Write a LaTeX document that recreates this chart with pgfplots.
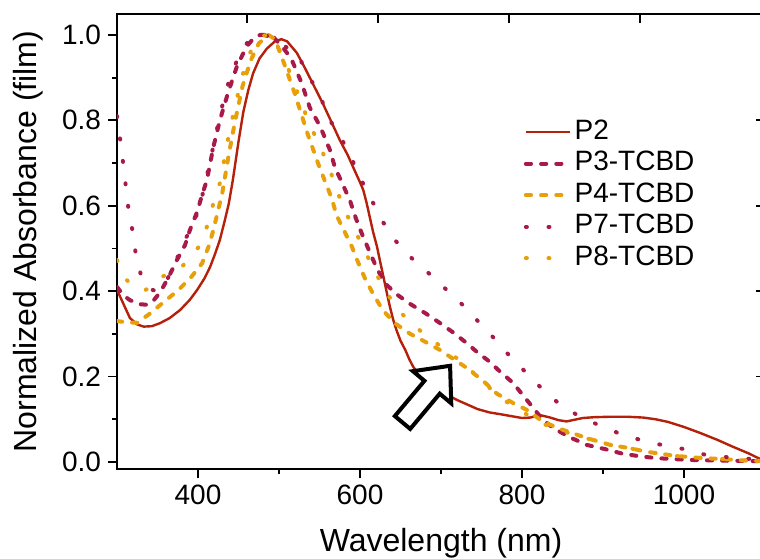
\documentclass[border=0pt]{standalone}
\usepackage{fontspec}
\setmainfont{Liberation Sans}
\usepackage{pgfplots}
\pgfplotsset{compat=1.18}

\definecolor{cP2}{RGB}{180,32,10}
\definecolor{cCrim}{RGB}{170,26,72}
\definecolor{cGold}{RGB}{232,160,10}

\begin{document}
\begin{tikzpicture}
\begin{axis}[
  name=ax,
  scale only axis, width=324pt, height=227.5pt,
  xmin=300, xmax=1100, ymin=-0.0164, ymax=1.049,
  xtick={400,600,...,1000}, minor x tick num=1,
  ytick={0,0.2,...,1.0}, minor y tick num=1,
  xtick pos=bottom, ytick pos=left, tick align=outside,
  major tick length=4.5pt, minor tick length=2.5pt,
  axis line style={line width=1pt}, every tick/.style={line width=0.9pt, black},
  /pgf/number format/assume math mode=true,
  ticklabel style={font=\fontsize{14}{16}\selectfont},
  yticklabel style={/pgf/number format/.cd, fixed, fixed zerofill, precision=1},
  xticklabel style={/pgf/number format/.cd, fixed, 1000 sep={}},
  xlabel={Wavelength (nm)}, ylabel={Normalized Absorbance (film)},
  every axis x label/.style={at={(axis description cs:0.5,-0.1626)}, anchor=center,
    font=\fontsize{16}{18}\selectfont},
  every axis y label/.style={at={(axis description cs:-0.1373,0.5)}, anchor=center,
    rotate=90, font=\fontsize{16}{18}\selectfont},
  legend style={at={(axis description cs:0.618,0.785)}, anchor=north west,
    draw=none, fill=none, font=\fontsize{14}{16}\selectfont, row sep=0pt,
    nodes={text height=10pt, text depth=3pt, inner sep=1.4pt}},
  legend cell align=left,
  legend image code/.code={\draw[#1] (0pt,0pt) -- (22pt,0pt);},
]
\addplot[cP2, line width=1.2pt] coordinates {
(300,0.403) (308,0.37) (316,0.337) (325,0.322) (333,0.317) (343,0.318) (353,0.325)
(365,0.337) (378,0.356) (390,0.38) (399,0.403) (408,0.43) (415,0.457) (421,0.487)
(427,0.52) (433,0.565) (438,0.605) (443,0.66) (450,0.75) (456,0.82) (462,0.87)
(468,0.91) (476,0.945) (485,0.968) (495,0.985) (503,0.99) (510,0.985) (522,0.958)
(530,0.93) (538,0.90) (546,0.87) (554,0.84) (565,0.795) (575,0.754) (585,0.718)
(594,0.68) (600,0.655) (604,0.637) (608,0.608) (612,0.574) (616,0.54) (621,0.504)
(625,0.468) (629,0.433) (633,0.397) (637,0.363) (641,0.333) (645,0.309) (650,0.284)
(656,0.262) (661,0.24) (666,0.222) (673,0.205) (680,0.192) (690,0.178) (699,0.168)
(710,0.155) (720,0.145) (732,0.135) (745,0.124) (760,0.116) (773,0.112) (785,0.108)
(800,0.103) (810,0.104) (822,0.11) (835,0.104) (845,0.098) (855,0.095) (865,0.099)
(875,0.103) (890,0.105) (910,0.106) (930,0.106) (950,0.104) (965,0.1) (980,0.094)
(1000,0.082) (1020,0.068) (1041,0.052) (1060,0.036) (1080,0.02) (1094,0.007) (1100,0.004)
};
\addlegendentry{P2}
\addplot[cCrim, line width=2pt, line cap=round, dash pattern=on 2.6pt off 5.0pt] coordinates {
(300,0.41) (308,0.39) (316,0.379) (326,0.37) (337,0.368) (345,0.378) (351,0.392)
(357,0.41) (364,0.434) (374,0.473) (384,0.508) (390,0.543) (399,0.586) (405,0.625)
(411,0.66) (419,0.738) (427,0.80) (437,0.864) (448,0.926) (460,0.973) (470,0.995)
(477,1.0) (485,1.0) (493,0.995) (505,0.97) (515,0.945) (528,0.887) (538,0.83)
(551,0.785) (563,0.73) (569,0.69) (579,0.649) (588,0.61) (595,0.57) (602,0.536)
(611,0.496) (620,0.457) (630,0.42) (645,0.393) (662,0.37) (681,0.348) (699,0.325)
(716,0.302) (732,0.278) (746,0.255) (760,0.235) (771,0.215) (789,0.185) (806,0.145)
(826,0.098) (840,0.078) (859,0.058) (880,0.04) (903,0.03) (923,0.02) (943,0.014)
(966,0.009) (987,0.007) (1004,0.005) (1050,0.003) (1100,0.002)
};
\addlegendentry{P3-TCBD}
\addplot[cGold, line width=2pt, line cap=round, dash pattern=on 2.6pt off 5.0pt] coordinates {
(300,0.33) (312,0.327) (325,0.326) (341,0.348) (358,0.375) (376,0.403) (392,0.434)
(405,0.465) (413,0.504) (419,0.543) (424,0.583) (430,0.63) (438,0.72) (446,0.80)
(455,0.88) (465,0.94) (475,0.98) (487,1.0) (495,0.99) (505,0.94) (520,0.86)
(535,0.77) (550,0.69) (565,0.618) (571,0.578) (580,0.543) (590,0.504) (598,0.466)
(607,0.426) (617,0.391) (628,0.356) (643,0.325) (662,0.30) (680,0.282) (699,0.262)
(717,0.239) (732,0.22) (752,0.19) (769,0.16) (789,0.138) (806,0.122) (826,0.094)
(851,0.075) (880,0.056) (909,0.04) (931,0.033) (954,0.024) (991,0.014) (1024,0.009)
(1048,0.007) (1069,0.004) (1100,0.002)
};
\addlegendentry{P4-TCBD}
\addplot[cCrim, line width=2pt, line cap=round, dash pattern=on 0.5pt off 10.8pt] coordinates {
(300,0.81) (305,0.74) (310,0.66) (314,0.594) (319,0.543) (323,0.489) (330,0.434)
(340,0.405) (351,0.399) (360,0.42) (368,0.45) (382,0.512) (392,0.551) (401,0.59)
(409,0.653) (419,0.74) (428,0.82) (438,0.89) (450,0.95) (462,0.985) (475,1.0)
(485,0.998) (498,0.985) (510,0.97) (522,0.957) (538,0.90) (551,0.855) (563,0.80)
(577,0.758) (590,0.709) (602,0.659) (615,0.611) (628,0.563) (642,0.522) (661,0.482)
(682,0.447) (703,0.41) (723,0.375) (743,0.335) (763,0.295) (780,0.258) (800,0.219)
(820,0.18) (843,0.141) (868,0.11) (894,0.087) (921,0.066) (949,0.05) (977,0.038)
(1001,0.03) (1028,0.016) (1060,0.01) (1100,0.005)
};
\addlegendentry{P7-TCBD}
\addplot[cGold, line width=2pt, line cap=round, dash pattern=on 0.5pt off 10.8pt] coordinates {
(300,0.473) (312,0.426) (322,0.41) (331,0.40) (344,0.41) (356,0.434) (368,0.445)
(380,0.457) (391,0.48) (401,0.504) (411,0.551) (419,0.606) (427,0.653) (433,0.714)
(440,0.785) (448,0.85) (454,0.90) (464,0.957) (472,0.985) (480,0.998) (486,1.0)
(493,0.99) (505,0.95) (516,0.90) (526,0.848) (538,0.79) (551,0.738) (563,0.684)
(568,0.655) (579,0.598) (591,0.551) (604,0.504) (616,0.454) (631,0.403) (645,0.36)
(666,0.32) (686,0.29) (700,0.27) (709,0.258) (727,0.232) (745,0.20) (765,0.165)
(785,0.135) (800,0.118) (820,0.095) (841,0.077) (865,0.064) (886,0.052) (909,0.04)
(931,0.033) (954,0.024) (991,0.014) (1024,0.009) (1048,0.007) (1069,0.004) (1100,0.002)
};
\addlegendentry{P8-TCBD}
% extra tick marks on the top and right frame (4.5pt = 11.1 nm = 0.021)
\foreach \t in {460,622,784,946} {
  \edef\tmp{\noexpand\draw[line width=0.9pt] (axis cs:\t,1.049) -- (axis cs:\t,1.028);}\tmp
}
\foreach \t in {0.2,0.4,0.6,0.8} {
  \edef\tmp{\noexpand\draw[line width=0.9pt] (axis cs:1100,\t) -- (axis cs:1088.9,\t);}\tmp
}
% open block arrow
\draw[line width=2pt, fill=white, miter limit=10, shift={(axis cs:652.5,0.0925)}, rotate=50]
  (0pt,-5pt) -- (23pt,-5pt) -- (23pt,-12.5pt) -- (37pt,0pt) -- (23pt,12.5pt)
  -- (23pt,5pt) -- (0pt,5pt) -- cycle;
\end{axis}
\pgfresetboundingbox
\path[use as bounding box] ([xshift=-58.5pt,yshift=-44.5pt]ax.south west)
  rectangle ([xshift=-2.5pt,yshift=7pt]ax.north east);
\end{tikzpicture}
\end{document}
